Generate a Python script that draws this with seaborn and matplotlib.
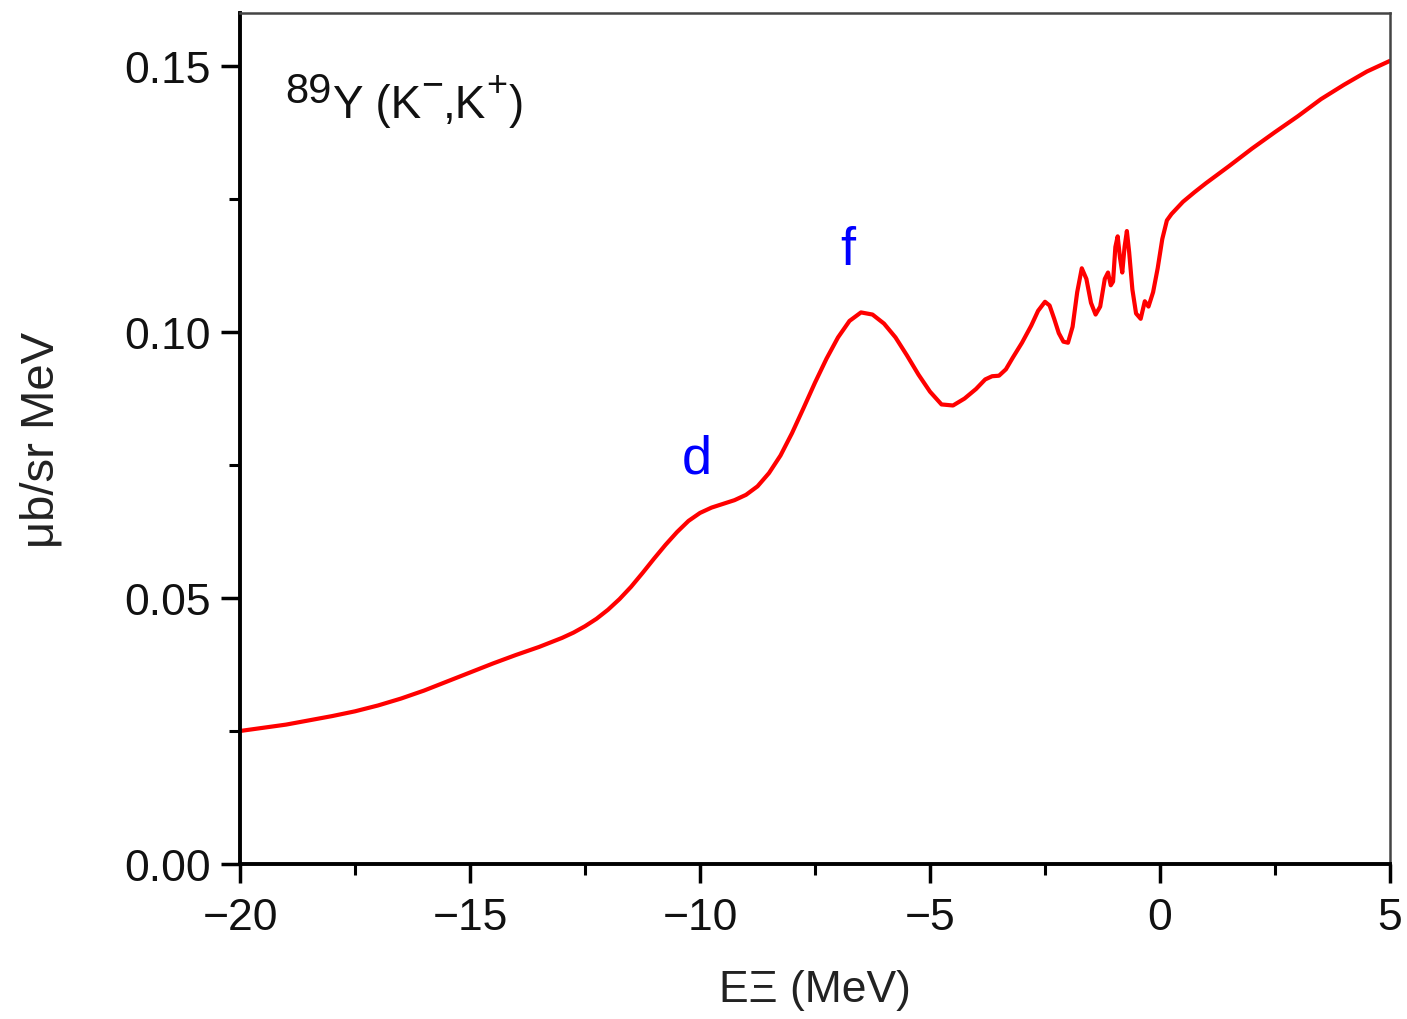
import matplotlib
matplotlib.use("Agg")
import matplotlib.pyplot as plt
from matplotlib.ticker import MultipleLocator, FormatStrFormatter
import pandas as pd
import seaborn as sns

# Xi binding energy (MeV) and differential cross section (μb/sr MeV)
energy = [-20.0, -19.5, -19.0, -18.5, -18.0, -17.5, -17.0, -16.5, -16.0, -15.5,
          -15.0, -14.5, -14.0, -13.5, -13.0, -12.75, -12.5, -12.25, -12.0, -11.75,
          -11.5, -11.25, -11.0, -10.75, -10.5, -10.25, -10.0, -9.75, -9.5, -9.25,
          -9.0, -8.75, -8.5, -8.25, -8.0, -7.75, -7.5, -7.25, -7.0, -6.75,
          -6.5, -6.25, -6.0, -5.75, -5.5, -5.25, -5.0, -4.75, -4.5, -4.25,
          -4.0, -3.8, -3.65, -3.5, -3.35, -3.2, -3.0, -2.8, -2.65, -2.5,
          -2.4, -2.3, -2.2, -2.1, -2.0, -1.9, -1.8, -1.7, -1.6, -1.5,
          -1.4, -1.3, -1.2, -1.13, -1.07, -1.02, -0.97, -0.92, -0.87, -0.82,
          -0.77, -0.72, -0.67, -0.6, -0.52, -0.42, -0.33, -0.25, -0.15, -0.05,
          0.05, 0.15, 0.25, 0.5, 0.75, 1.0, 1.5, 2.0, 2.5, 3.0,
          3.5, 4.0, 4.5, 5.0]
xsec = [0.0250, 0.0256, 0.0262, 0.0270, 0.0278, 0.0287, 0.0298, 0.0311, 0.0326, 0.0343,
        0.0360, 0.0377, 0.0393, 0.0408, 0.0425, 0.0435, 0.0447, 0.0461, 0.0478, 0.0498,
        0.0521, 0.0547, 0.0574, 0.0600, 0.0624, 0.0645, 0.0660, 0.0670, 0.0677, 0.0684,
        0.0694, 0.0710, 0.0735, 0.0768, 0.0810, 0.0857, 0.0905, 0.0950, 0.0990, 0.1021,
        0.1037, 0.1033, 0.1016, 0.0990, 0.0956, 0.0920, 0.0888, 0.0864, 0.0862, 0.0875,
        0.0893, 0.0911, 0.0917, 0.0918, 0.0930, 0.0952, 0.0980, 0.1012, 0.1040, 0.1057,
        0.1050, 0.1025, 0.0998, 0.0982, 0.0980, 0.1010, 0.1075, 0.1120, 0.1100, 0.1055,
        0.1033, 0.1048, 0.1100, 0.1112, 0.1088, 0.1095, 0.1160, 0.1180, 0.1140, 0.1112,
        0.1160, 0.1190, 0.1150, 0.1080, 0.1035, 0.1025, 0.1058, 0.1048, 0.1075, 0.1120,
        0.1175, 0.1210, 0.1222, 0.1245, 0.1263, 0.1280, 0.1312, 0.1345, 0.1376, 0.1406,
        0.1438, 0.1465, 0.1490, 0.1510]

x_ticks = [-20, -15, -10, -5, 0, 5]
x_tick_labels = ["\u221220", "\u221215", "\u221210", "\u22125", "0", "5"]
y_ticks = [0.00, 0.05, 0.10, 0.15]

# peak labels: (text, energy, cross section)
peak_labels = [("d", -10.07, 0.0762), ("f", -6.78, 0.1155)]

sns.set_theme(style="ticks")
plt.rcParams["font.family"] = ["Liberation Sans", "DejaVu Sans"]

fig = plt.figure(figsize=(14.07, 10.20), dpi=100)
ax = fig.add_axes([0.1706, 0.152, 0.9879 - 0.1706, 0.9863 - 0.152])

df = pd.DataFrame({"E": energy, "sigma": xsec})
sns.lineplot(data=df, x="E", y="sigma", ax=ax, color="#ff0000", linewidth=3.0,
             solid_joinstyle="round", solid_capstyle="round")

ax.set_xlim(-20, 5)
ax.set_ylim(0, 0.16)
ax.set_xticks(x_ticks)
ax.set_xticklabels(x_tick_labels)
ax.set_yticks(y_ticks)
ax.xaxis.set_minor_locator(MultipleLocator(2.5))
ax.yaxis.set_minor_locator(MultipleLocator(0.025))
ax.yaxis.set_major_formatter(FormatStrFormatter("%.2f"))

ax.tick_params(axis="both", which="major", direction="out", length=14, width=2.5,
               color="black", labelsize=32, labelcolor="#111111")
ax.tick_params(axis="both", which="minor", direction="out", length=8, width=2.2,
               color="black")
ax.tick_params(axis="x", which="major", pad=10)
ax.tick_params(axis="y", which="major", pad=7)

for side in ["left", "bottom"]:
    ax.spines[side].set_linewidth(2.8)
    ax.spines[side].set_color("black")
for side in ["top", "right"]:
    ax.spines[side].set_visible(True)
    ax.spines[side].set_linewidth(1.8)
    ax.spines[side].set_color("#444444")

ax.set_xlabel("E\u039e (MeV)", fontsize=32, color="#222222", labelpad=22)
ax.set_ylabel("\u03bcb/sr MeV", fontsize=34, color="#222222", labelpad=44)

# reaction label built from pieces so the superscripts keep their own sizes
base_y = 0.8778
t = ax.text(0.039, base_y + 0.0176, "89", transform=ax.transAxes,
            fontsize=30, color="#111111", ha="left", va="baseline")
pieces = [("Y (K", 33, 0.0, 1), ("\u2212", 27, 0.026, 0), (",K", 33, 0.0, 0),
          ("+", 26, 0.026, 0), (")", 33, 0.0, 1)]
for txt, size, rise, gap in pieces:
    t = ax.annotate(txt, xy=(1, base_y + rise), xycoords=(t, "axes fraction"),
                    xytext=(gap, 0), textcoords="offset points",
                    fontsize=size, color="#111111", ha="left", va="baseline")

for label, ex, ey in peak_labels:
    ax.text(ex, ey, label, fontsize=39, color="#0000ff", ha="center", va="center")

fig.savefig("out.png", dpi=100, facecolor="white")
